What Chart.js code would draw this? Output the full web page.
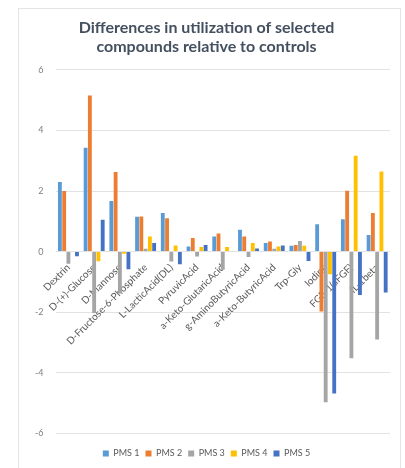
<!DOCTYPE html>
<html>
<head>
<meta charset="utf-8">
<script src="https://cdn.jsdelivr.net/npm/chart.js@4.4.0/dist/chart.umd.min.js"></script>
<style>
  html, body { margin: 0; padding: 0; background: #fff; }
  #box { position: absolute; left: 18px; top: 8px; width: 381px; height: 459px; border: 1px solid #e4e4e4; }
</style>
</head>
<body>
<div id="box"><canvas id="barChart"></canvas></div>
<script>
// categories + values
var compounds = ['Dextrin', 'D-(+)-Glucose', 'D-Mannose', 'D-Fructose-6-Phosphate', 'L-LacticAcid(DL)',
  'PyruvicAcid', 'a-Keto-GlutaricAcid', 'g-AminoButyricAcid', 'a-Keto-ButyricAcid', 'Trp-Gly',
  'Iodine', 'FGF-1(aFGF)', 'IL-1beta'];
var pms1 = [2.3, 3.43, 1.67, 1.15, 1.27, 0.17, 0.5, 0.72, 0.28, 0.19, 0.9, 1.07, 0.55];
var pms2 = [2.0, 5.15, 2.63, 1.16, 1.1, 0.45, 0.6, 0.5, 0.33, 0.22, -1.98, 2.01, 1.27];
var pms3 = [-0.4, -2.03, -1.38, 0.09, -0.33, -0.16, -0.6, -0.18, 0.09, 0.35, -4.97, -3.52, -2.9];
var pms4 = [0, -0.32, -0.07, 0.5, 0.2, 0.15, 0.15, 0.28, 0.17, 0.19, -0.75, 3.16, 2.64];
var pms5 = [-0.15, 1.05, -0.58, 0.28, -0.42, 0.22, 0, 0.1, 0.2, -0.31, -4.68, -1.43, -1.35];
var yTicks = [-6, -4, -2, 0, 2, 4, 6];

function series(label, data, color) {
  return { label: label, data: data, backgroundColor: color, borderWidth: 0,
           barPercentage: 0.9, categoryPercentage: 0.83 };
}

var ctx = document.getElementById('barChart').getContext('2d');
var myChart = new Chart(ctx, {
  type: 'bar',
  data: {
    labels: compounds,
    datasets: [
      series('PMS 1', pms1, '#5b9bd5'),
      series('PMS 2', pms2, '#ed7d31'),
      series('PMS 3', pms3, '#a5a5a5'),
      series('PMS 4', pms4, '#ffc000'),
      series('PMS 5', pms5, '#4472c4')
    ]
  },
  options: {
    responsive: true,
    maintainAspectRatio: false,
    animation: false,
    layout: { padding: { left: 4, right: 10, top: 0, bottom: 0 } },
    plugins: {
      title: {
        display: true,
        text: ['Differences in utilization of selected', 'compounds relative to controls'],
        color: '#44505f',
        font: { family: 'Lato', size: 16, weight: 'bold', lineHeight: 1.15 },
        padding: { top: 10, bottom: 14 }
      },
      legend: {
        position: 'bottom',
        // empty title only pushes the legend row down a little
        title: { display: true, text: '', padding: 0, font: { size: 8 } },
        labels: { boxWidth: 6, boxHeight: 6, color: '#595959', padding: 6,
                  font: { family: 'Lato', size: 9 } }
      },
      tooltip: { enabled: false }
    },
    scales: {
      x: {
        position: { y: 0 },
        grid: { display: false },
        border: { display: false },
        ticks: { color: '#595959', maxRotation: 45, minRotation: 45, autoSkip: false,
                 padding: 2, font: { family: 'Lato', size: 10 } }
      },
      y: {
        min: -6, max: 6,
        afterBuildTicks: function (scale) { scale.ticks = yTicks.map(function (v) { return { value: v }; }); },
        grid: { color: '#e2e2e2', drawTicks: false },
        border: { display: false },
        ticks: { color: '#7f7f7f', padding: 12, font: { family: 'Lato', size: 9 } }
      }
    }
  }
});
</script>
</body>
</html>
